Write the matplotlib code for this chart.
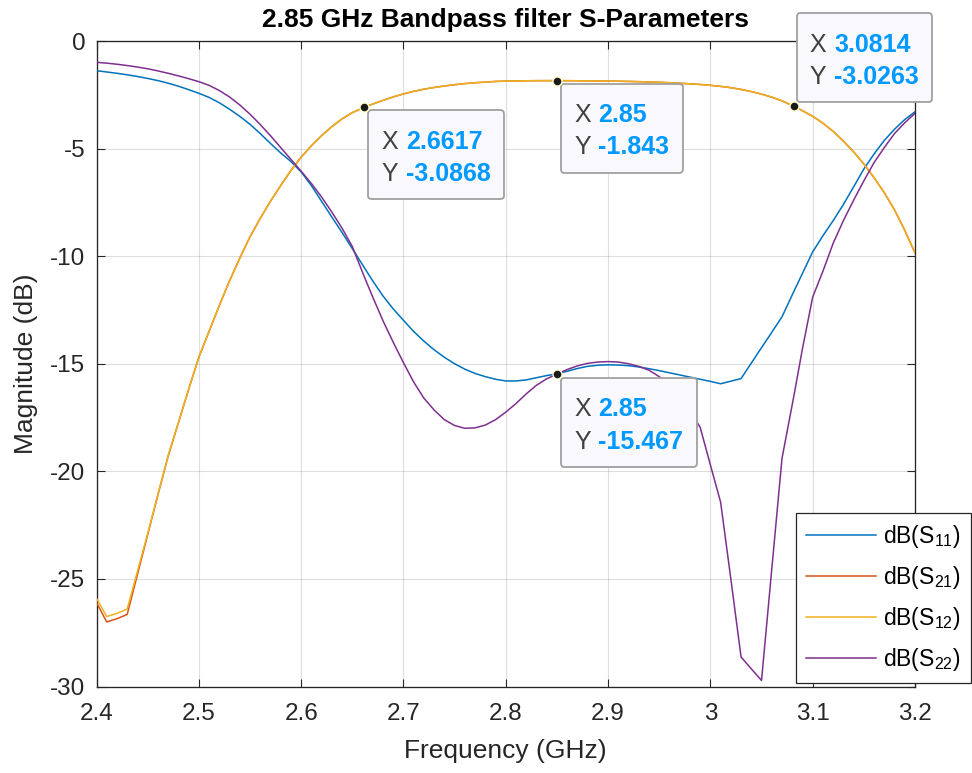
import matplotlib
matplotlib.use("Agg")
import matplotlib.pyplot as plt
from matplotlib.offsetbox import TextArea, HPacker, VPacker, DrawingArea, AnnotationBbox

# ---------------------------------------------------------------------------
# Data: S-parameter magnitudes (dB) of the 2.85 GHz bandpass filter
# ---------------------------------------------------------------------------
freq_ghz = [
    2.40, 2.41, 2.42, 2.43, 2.44, 2.45, 2.46, 2.47, 2.48, 2.49,
    2.50, 2.51, 2.52, 2.53, 2.54, 2.55, 2.56, 2.57, 2.58, 2.59,
    2.60, 2.61, 2.62, 2.63, 2.64, 2.65, 2.66, 2.6617, 2.67, 2.68, 2.69,
    2.70, 2.71, 2.72, 2.73, 2.74, 2.75, 2.76, 2.77, 2.78, 2.79,
    2.80, 2.81, 2.82, 2.83, 2.84, 2.85, 2.86, 2.87, 2.88, 2.89,
    2.90, 2.91, 2.92, 2.93, 2.94, 2.95, 2.96, 2.97, 2.98, 2.99,
    3.00, 3.01, 3.02, 3.03, 3.04, 3.05, 3.06, 3.07, 3.08, 3.0814, 3.09,
    3.10, 3.11, 3.12, 3.13, 3.14, 3.15, 3.16, 3.17, 3.18, 3.19, 3.20,
]

s11_db = [
    -1.38, -1.44, -1.50, -1.57, -1.65, -1.74, -1.84, -1.96, -2.10, -2.26,
    -2.43, -2.62, -2.87, -3.17, -3.50, -3.87, -4.30, -4.76, -5.20, -5.60,
    -6.08, -6.72, -7.45, -8.18, -8.90, -9.65, -10.40, -10.53, -11.15, -11.85, -12.45,
    -12.98, -13.50, -13.95, -14.35, -14.70, -15.00, -15.25, -15.45, -15.60, -15.72,
    -15.80, -15.80, -15.75, -15.65, -15.55, -15.467, -15.35, -15.22, -15.12, -15.07,
    -15.05, -15.06, -15.09, -15.15, -15.23, -15.32, -15.42, -15.52, -15.62, -15.72,
    -15.82, -15.93, -15.81, -15.69, -14.97, -14.25, -13.54, -12.82, -11.80, -11.66, -10.80,
    -9.80, -9.05, -8.35, -7.60, -6.78, -5.95, -5.25, -4.62, -4.10, -3.65, -3.29,
]

s21_db = [
    -26.10, -27.00, -26.85, -26.65, -24.80, -22.95, -21.10, -19.30, -17.75, -16.20,
    -14.70, -13.50, -12.30, -11.15, -10.10, -9.10, -8.25, -7.45, -6.72, -6.02,
    -5.40, -4.87, -4.40, -3.98, -3.62, -3.33, -3.12, -3.0868, -2.93, -2.76, -2.60,
    -2.46, -2.34, -2.24, -2.16, -2.09, -2.03, -1.98, -1.94, -1.91, -1.88,
    -1.865, -1.855, -1.848, -1.844, -1.842, -1.843, -1.845, -1.848, -1.852, -1.857,
    -1.863, -1.870, -1.879, -1.890, -1.903, -1.920, -1.940, -1.963, -1.990, -2.020,
    -2.06, -2.11, -2.17, -2.25, -2.35, -2.47, -2.61, -2.78, -3.00, -3.0263, -3.24,
    -3.50, -3.82, -4.20, -4.65, -5.15, -5.72, -6.35, -7.05, -7.85, -8.80, -9.85,
]

s12_db = [
    -25.90, -26.75, -26.60, -26.40, -24.65, -22.90, -21.08, -19.28, -17.74, -16.20,
    -14.70, -13.50, -12.30, -11.15, -10.10, -9.10, -8.25, -7.45, -6.72, -6.02,
    -5.40, -4.87, -4.40, -3.98, -3.62, -3.33, -3.12, -3.0868, -2.93, -2.76, -2.60,
    -2.46, -2.34, -2.24, -2.16, -2.09, -2.03, -1.98, -1.94, -1.91, -1.88,
    -1.865, -1.855, -1.848, -1.844, -1.842, -1.843, -1.845, -1.848, -1.852, -1.857,
    -1.863, -1.870, -1.879, -1.890, -1.903, -1.920, -1.940, -1.963, -1.990, -2.020,
    -2.06, -2.11, -2.17, -2.25, -2.35, -2.47, -2.61, -2.78, -3.00, -3.0263, -3.24,
    -3.50, -3.82, -4.20, -4.65, -5.15, -5.72, -6.35, -7.05, -7.85, -8.80, -9.85,
]

s22_db = [
    -0.99, -1.03, -1.08, -1.14, -1.21, -1.29, -1.39, -1.50, -1.62, -1.75,
    -1.89, -2.06, -2.30, -2.60, -2.97, -3.40, -3.88, -4.40, -4.95, -5.50,
    -6.05, -6.62, -7.25, -7.95, -8.70, -9.55, -10.75, -10.95, -11.90, -13.00, -14.00,
    -14.95, -15.85, -16.60, -17.15, -17.60, -17.87, -18.00, -17.98, -17.85, -17.60,
    -17.25, -16.85, -16.40, -16.00, -15.70, -15.48, -15.27, -15.10, -14.98, -14.92,
    -14.90, -14.92, -15.00, -15.12, -15.30, -15.60, -16.00, -16.55, -17.20, -17.95,
    -19.70, -21.43, -25.00, -28.63, -29.18, -29.72, -24.55, -19.40, -16.90, -16.55, -14.30,
    -11.90, -10.70, -9.40, -8.35, -7.40, -6.50, -5.65, -4.95, -4.30, -3.80, -3.36,
]

series_labels = [r"dB(S$_{11}$)", r"dB(S$_{21}$)", r"dB(S$_{12}$)", r"dB(S$_{22}$)"]
series_colors = ["#0072BD", "#D95319", "#EDB120", "#7E2F8E"]

x_ticks = [2.4, 2.5, 2.6, 2.7, 2.8, 2.9, 3.0, 3.1, 3.2]
x_tick_labels = ["2.4", "2.5", "2.6", "2.7", "2.8", "2.9", "3", "3.1", "3.2"]
y_ticks = [-30, -25, -20, -15, -10, -5, 0]
y_tick_labels = ["-30", "-25", "-20", "-15", "-10", "-5", "0"]

# Data tips: (series values, frequency, box offset in pixels, box alignment)
tip_specs = [
    (s21_db, 2.6617, (4, -3), (0, 1)),
    (s21_db, 2.85, (4, -3), (0, 1)),
    (s21_db, 3.0814, (3, 4), (0, 0)),
    (s11_db, 2.85, (4, -4), (0, 1)),
]

# ---------------------------------------------------------------------------
# Styling
# ---------------------------------------------------------------------------
plt.rcParams["font.family"] = ["Liberation Sans", "DejaVu Sans"]
plt.rcParams["mathtext.fontset"] = "custom"
plt.rcParams["mathtext.rm"] = "Liberation Sans"
plt.rcParams["mathtext.default"] = "regular"

AX_COLOR = "#262626"
W, H = 972, 773

fig = plt.figure(figsize=(W / 100, H / 100), dpi=100)
fig.patch.set_facecolor("white")
left, right, top, bottom = 96.5, 915.0, 41.0, 686.5
ax = fig.add_axes([left / W, 1 - bottom / H, (right - left) / W, (bottom - top) / H])

for vals, lab, col in zip([s11_db, s21_db, s12_db, s22_db], series_labels, series_colors):
    ax.plot(freq_ghz, vals, color=col, lw=1.1, label=lab, zorder=3)

ax.set_xlim(2.4, 3.2)
ax.set_ylim(-30, 0)
ax.set_xticks(x_ticks)
ax.set_xticklabels(x_tick_labels)
ax.set_yticks(y_ticks)
ax.set_yticklabels(y_tick_labels)

ax.set_axisbelow(True)
ax.grid(True, color=AX_COLOR, alpha=0.15, lw=0.8)
ax.tick_params(direction="in", length=5.5, width=0.8, top=True, right=True,
               labelsize=17.5, colors=AX_COLOR)
ax.tick_params(axis="x", pad=12)
ax.tick_params(axis="y", pad=8)
for sp in ax.spines.values():
    sp.set_color(AX_COLOR)
    sp.set_linewidth(0.95)

ax.set_xlabel("Frequency (GHz)", fontsize=19, color=AX_COLOR, labelpad=10)
ax.set_ylabel("Magnitude (dB)", fontsize=19, color=AX_COLOR, labelpad=9)
ax.set_title("2.85 GHz Bandpass filter S-Parameters", fontsize=19,
             fontweight="bold", color="black", pad=10)

leg = ax.legend(loc="lower right", bbox_to_anchor=(971 / W, 1 - 683 / H),
                bbox_transform=fig.transFigure, fontsize=16.5, frameon=True,
                fancybox=False, edgecolor=AX_COLOR, framealpha=1,
                borderaxespad=0, handlelength=3.05, handletextpad=0.3,
                labelspacing=0.6, borderpad=0.45)
leg.get_frame().set_linewidth(0.9)
leg.set_zorder(8)

# ---------------------------------------------------------------------------
# Data tips
# ---------------------------------------------------------------------------
TIP_FS = 18
TIP_VALUE_COLOR = "#0099FF"


def tip_row(key, value):
    k = TextArea(key, textprops=dict(color="#404040", fontsize=TIP_FS))
    v = TextArea(value, textprops=dict(color=TIP_VALUE_COLOR, fontsize=TIP_FS,
                                       fontweight="bold"))
    return HPacker(children=[k, v], align="baseline", pad=0, sep=5.5)


for vals, f, offset, align in tip_specs:
    y = vals[freq_ghz.index(f)]
    content = VPacker(
        children=[DrawingArea(1, 4.5), tip_row("X", format(f, ".5g")),
                  DrawingArea(1, 6), tip_row("Y", format(y, ".5g"))],
        align="left", pad=9.5, sep=0)
    ab = AnnotationBbox(content, (f, y), xycoords="data", xybox=offset,
                        boxcoords="offset pixels", box_alignment=align,
                        pad=0, frameon=True, annotation_clip=False,
                        bboxprops=dict(boxstyle="round,pad=0,rounding_size=0.25",
                                       facecolor="#F8F8FD", edgecolor="#A0A0A0",
                                       linewidth=1.3))
    ab.set_zorder(6)
    ax.add_artist(ab)
    ax.plot([f], [y], "o", ms=6.5, mfc="#1A1A1A", mec="#FFFFD0", mew=1.0,
            zorder=7, clip_on=False)

fig.savefig("out.png", dpi=100)
